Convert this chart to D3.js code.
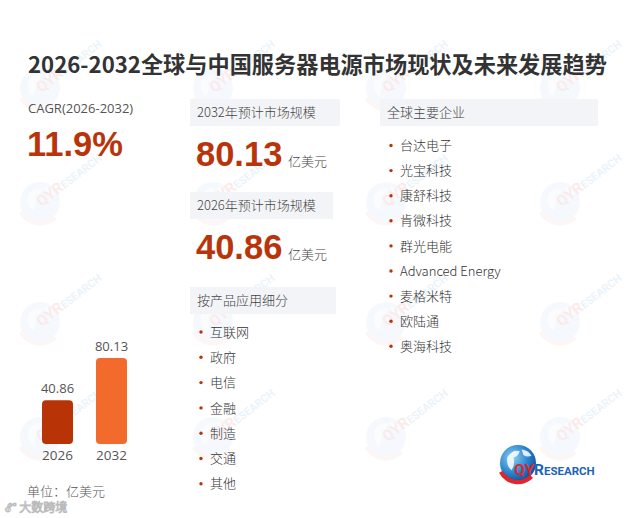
<!DOCTYPE html>
<html>
<head>
<meta charset="utf-8">
<script src="https://cdn.jsdelivr.net/npm/d3@7"></script>
<style>
  html, body { margin: 0; padding: 0; background: #fff; }
  svg { display: block; font-family: "Noto Sans CJK SC", "Noto Sans", sans-serif; }
</style>
</head>
<body>
<div id="chart"></div>
<script>
// chart values
const title = '2026-2032全球与中国服务器电源市场现状及未来发展趋势';
const cagrLabel = 'CAGR(2026-2032)';
const cagrValue = '11.9%';
const years = ['2026', '2032'];
const marketSize = [40.86, 80.13];
const unit = '亿美元';
const segments = ['互联网', '政府', '电信', '金融', '制造', '交通', '其他'];
const companies = ['台达电子', '光宝科技', '康舒科技', '肯微科技', '群光电能', 'Advanced Energy', '麦格米特', '欧陆通', '奥海科技'];

function drawChart() {
    const w = 630;
    const h = 518;
    const red = '#b8350b';

    const svg = d3.select('#chart')
        .append('svg')
        .attr('width', w)
        .attr('height', h);

    const defs = svg.append('defs');
    const grad = defs.append('radialGradient')
        .attr('id', 'globeGrad')
        .attr('cx', '35%').attr('cy', '35%').attr('r', '70%');
    grad.append('stop').attr('offset', '0%').attr('stop-color', '#8fd0f5');
    grad.append('stop').attr('offset', '60%').attr('stop-color', '#2b86cf');
    grad.append('stop').attr('offset', '100%').attr('stop-color', '#12509a');

    // faint watermark logos in the background
    function logo(g, r, big) {
        g.append('circle')
            .attr('r', r)
            .attr('fill', big ? 'url(#globeGrad)' : '#9cc6ea');
        g.append('path') // land shapes
            .attr('d', `M${-r * 0.6},${-r * 0.3} q${r * 0.3},${-r * 0.5} ${r * 0.7},${-r * 0.35} q${-r * 0.1},${r * 0.3} ${-r * 0.35},${r * 0.35} q${r * 0.1},${r * 0.4} ${-r * 0.1},${r * 0.7} q${-r * 0.3},${-r * 0.2} ${-r * 0.25},${-r * 0.7}z`)
            .attr('fill', '#fff')
            .attr('opacity', big ? 0.85 : 0.6);
        g.append('path')
            .attr('d', `M${r * 0.2},${-r * 0.75} q${r * 0.4},${r * 0.05} ${r * 0.55},${r * 0.35} q${-r * 0.25},${r * 0.1} ${-r * 0.45},${-r * 0.05}z`)
            .attr('fill', '#fff')
            .attr('opacity', big ? 0.85 : 0.6);
        g.append('path') // red swoosh
            .attr('d', d3.arc()({
                innerRadius: r * 0.95,
                outerRadius: r * 1.18,
                startAngle: Math.PI * 0.75,
                endAngle: Math.PI * 1.35
            }))
            .attr('fill', big ? '#e0262b' : '#f1a3a5');
    }

    const wmCols = [40, 213, 386, 560];
    const wmRows = [88, 202, 322, 437];
    wmRows.forEach((yy) => {
        wmCols.forEach((xx) => {
            const g = svg.append('g')
                .attr('transform', 'translate(' + xx + ',' + yy + ')')
                .attr('opacity', 0.09);
            logo(g, 20, false);
            g.append('text')
                .attr('transform', 'rotate(-38) translate(-2,5)')
                .attr('font-family', 'Roboto, sans-serif')
                .attr('font-weight', 'bold')
                .attr('font-size', 15)
                .attr('fill', '#e0262b')
                .text('QYR')
                .append('tspan')
                .attr('font-size', 11)
                .attr('fill', '#2b86cf')
                .text('ESEARCH');
        });
    });

    // title
    svg.append('text')
        .attr('x', 28)
        .attr('y', 73)
        .attr('font-size', 22.2)
        .attr('font-weight', 'bold')
        .attr('fill', '#333')
        .text(title);

    // CAGR
    svg.append('text')
        .attr('x', 28)
        .attr('y', 113)
        .attr('font-family', '"Open Sans", "Noto Sans", sans-serif')
        .attr('font-size', 13)
        .attr('fill', '#555')
        .text(cagrLabel);

    svg.append('text')
        .attr('x', 27)
        .attr('y', 156)
        .attr('font-family', '"Liberation Sans", Arial, sans-serif')
        .attr('font-size', 34.5)
        .attr('font-weight', 'bold')
        .attr('fill', red)
        .text(cagrValue);

    // section header boxes
    function header(x, y, bw, label) {
        svg.append('rect')
            .attr('x', x).attr('y', y)
            .attr('width', bw).attr('height', 27)
            .attr('fill', '#f3f4f7');
        svg.append('text')
            .attr('x', x + 7)
            .attr('y', y + 18)
            .attr('font-size', 13)
            .attr('font-weight', 300)
            .attr('fill', '#444')
            .text(label);
    }

    header(190, 99, 150, years[1] + '年预计市场规模');
    header(190, 192, 143, years[0] + '年预计市场规模');
    header(190, 287, 146, '按产品应用细分');
    header(380, 99, 218, '全球主要企业');

    // big values
    const bigVals = [
        { v: marketSize[1], y: 166 },
        { v: marketSize[0], y: 259 }
    ];
    bigVals.forEach((d) => {
        svg.append('text')
            .attr('x', 196)
            .attr('y', d.y)
            .attr('font-family', '"Liberation Sans", Arial, sans-serif')
            .attr('font-size', 34.5)
            .attr('font-weight', 'bold')
            .attr('fill', red)
            .text(d3.format('.2f')(d.v));
        svg.append('text')
            .attr('x', 288)
            .attr('y', d.y)
            .attr('font-size', 13)
            .attr('font-weight', 300)
            .attr('fill', '#444')
            .text(unit);
    });

    // bullet lists
    function bulletList(items, x, y0, step) {
        const g = svg.append('g');
        const rows = g.selectAll('g')
            .data(items)
            .enter()
            .append('g')
            .attr('transform', (d, i) => 'translate(' + x + ',' + (y0 + i * step) + ')');
        rows.append('circle')
            .attr('cx', 0)
            .attr('cy', 0)
            .attr('r', 1.7)
            .attr('fill', red);
        rows.append('text')
            .attr('x', 9)
            .attr('y', 4.6)
            .attr('font-size', 13)
            .attr('font-weight', 300)
            .attr('fill', '#333')
            .text((d) => d);
    }

    bulletList(segments, 201, 332, 25.3);
    bulletList(companies, 391, 145.5, 25.1);

    // small bar chart
    const xScale = d3.scaleBand()
        .domain(years)
        .range([30.5, 138.5])
        .paddingInner(0.426)
        .paddingOuter(0.213);

    const yScale = d3.scaleLinear()
        .domain([0, d3.max(marketSize)])
        .range([444, 358]);

    const barColors = ['#b83407', '#f26b2c'];

    svg.selectAll('.bar')
        .data(marketSize)
        .enter()
        .append('rect')
        .attr('class', 'bar')
        .attr('x', (d, i) => xScale(years[i]))
        .attr('y', (d) => yScale(d))
        .attr('width', xScale.bandwidth())
        .attr('height', (d) => yScale(0) - yScale(d))
        .attr('rx', 4)
        .attr('fill', (d, i) => barColors[i]);

    svg.selectAll('.barLabel')
        .data(marketSize)
        .enter()
        .append('text')
        .attr('class', 'barLabel')
        .attr('x', (d, i) => xScale(years[i]) + xScale.bandwidth() / 2)
        .attr('y', (d) => yScale(d) - 7)
        .attr('text-anchor', 'middle')
        .attr('font-family', '"Open Sans", "Noto Sans", sans-serif')
        .attr('font-size', 13)
        .attr('fill', '#555')
        .text((d) => d3.format('.2f')(d));

    const xAxis = d3.axisBottom(xScale).tickSize(0).tickPadding(6);
    const axisG = svg.append('g')
        .attr('transform', 'translate(0,' + yScale(0) + ')')
        .call(xAxis);
    axisG.select('.domain').remove();
    axisG.selectAll('text')
        .attr('font-family', '"Open Sans", "Noto Sans", sans-serif')
        .attr('font-size', 13.5)
        .attr('fill', '#555');

    svg.append('text')
        .attr('x', 27)
        .attr('y', 496)
        .attr('font-size', 13)
        .attr('font-weight', 300)
        .attr('fill', '#555')
        .text('单位：' + unit);

    // faint site watermark
    svg.append('text')
        .attr('x', 5)
        .attr('y', 512)
        .attr('font-size', 12)
        .attr('fill', '#fff')
        .attr('stroke', '#bbb')
        .attr('stroke-width', 0.8)
        .text('ℰ° 大数跨境');

    // QYResearch logo
    const lg = svg.append('g').attr('transform', 'translate(518,463)');
    logo(lg, 18, true);
    const lt = svg.append('text')
        .attr('x', 514)
        .attr('y', 475)
        .attr('font-family', 'Roboto, "Liberation Sans", sans-serif')
        .attr('font-weight', 'bold')
        .attr('font-size', 15.5);
    lt.append('tspan').attr('fill', '#e0262b').text('QY');
    lt.append('tspan').attr('fill', '#1d64b3').text('R');
    lt.append('tspan').attr('fill', '#1d64b3').attr('font-size', 11.5).text('ESEARCH');
}

drawChart();
</script>
</body>
</html>
